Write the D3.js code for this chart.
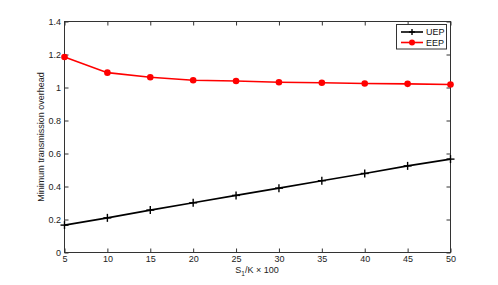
<!DOCTYPE html>
<html><head><meta charset="utf-8">
<script src="https://cdn.jsdelivr.net/npm/d3@7"></script>
<style>body{margin:0;background:#fff}svg{display:block}text{font-family:"Liberation Sans",Arial,sans-serif}</style>
</head><body>
<svg id="c" width="498" height="285"></svg>
<script>
const xValues = [5,10,15,20,25,30,35,40,45,50];
const uepValues = [0.166,0.210,0.257,0.301,0.346,0.390,0.435,0.479,0.525,0.566];
const eepValues = [1.185,1.090,1.062,1.044,1.039,1.032,1.029,1.024,1.022,1.018];
const xTicks = [5,10,15,20,25,30,35,40,45,50];
const yTicks = [0,0.2,0.4,0.6,0.8,1,1.2,1.4];
const seriesNames = ["UEP","EEP"];

const svg = d3.select("#c");
const L=64.5, R=450.5, T=21.5, B=252.5;
const x = d3.scaleLinear().domain([5,50]).range([L,R]);
const y = d3.scaleLinear().domain([0,1.4]).range([B,T]);
const axCol="#333", tk=4;

// box
svg.append("rect").attr("x",L).attr("y",T).attr("width",R-L).attr("height",B-T)
  .attr("fill","none").attr("stroke",axCol).attr("stroke-width",1);

const xb = svg.append("g").attr("transform",`translate(0,${B})`)
  .call(d3.axisBottom(x).tickValues(xTicks).tickSize(-tk).tickPadding(3.5).tickFormat(d3.format("d")));
const xt = svg.append("g").attr("transform",`translate(0,${T})`)
  .call(d3.axisTop(x).tickValues(xTicks).tickSize(-tk).tickFormat(""));
const yl = svg.append("g").attr("transform",`translate(${L},0)`)
  .call(d3.axisLeft(y).tickValues(yTicks).tickSize(-tk).tickPadding(3.5).tickFormat(d=>+d.toFixed(1)+""));
const yr = svg.append("g").attr("transform",`translate(${R},0)`)
  .call(d3.axisRight(y).tickValues(yTicks).tickSize(-tk).tickFormat(""));
[xb,xt,yl,yr].forEach(g=>{
  g.select(".domain").remove();
  g.selectAll("line").attr("stroke",axCol);
  g.selectAll("text").attr("fill","#222").style("font-size","9px").style("font-family","'Liberation Sans',Arial,sans-serif");
});

// lines
const line = d3.line().x((d,i)=>x(xValues[i])).y(d=>y(d));
svg.append("path").datum(uepValues).attr("d",line).attr("fill","none").attr("stroke","#000").attr("stroke-width",1.6);
svg.append("path").datum(eepValues).attr("d",line).attr("fill","none").attr("stroke","#f00").attr("stroke-width",1.6);

// markers
const plus = (g,cx,cy,s,col)=>{
  g.append("line").attr("x1",cx-s).attr("x2",cx+s).attr("y1",cy).attr("y2",cy).attr("stroke",col).attr("stroke-width",1.4);
  g.append("line").attr("x1",cx).attr("x2",cx).attr("y1",cy-s).attr("y2",cy+s).attr("stroke",col).attr("stroke-width",1.4);
};
const mk = svg.append("g");
uepValues.forEach((v,i)=>plus(mk,x(xValues[i]),y(v),4,"#000"));
svg.append("g").selectAll("circle").data(eepValues).join("circle")
  .attr("cx",(d,i)=>x(xValues[i])).attr("cy",d=>y(d)).attr("r",3.3).attr("fill","#f00");

// legend
const lg = svg.append("g");
lg.append("rect").attr("x",396.5).attr("y",24.5).attr("width",50).attr("height",24.5)
  .attr("fill","#fff").attr("stroke",axCol).attr("stroke-width",1);
const ly=[32,42.5], lc=["#000","#f00"];
seriesNames.forEach((n,i)=>{
  lg.append("line").attr("x1",401).attr("x2",423).attr("y1",ly[i]).attr("y2",ly[i]).attr("stroke",lc[i]).attr("stroke-width",1.6);
  if(i===0) plus(lg,412,ly[i],3,"#000");
  else lg.append("circle").attr("cx",412).attr("cy",ly[i]).attr("r",3).attr("fill","#f00");
  lg.append("text").attr("x",426).attr("y",ly[i]+3.3).text(n).style("font-size","9px").attr("fill","#111");
});

// axis labels
const xl = svg.append("text").attr("x",257).attr("y",273).attr("text-anchor","middle").style("font-size","9px").attr("fill","#222");
xl.append("tspan").text("S");
xl.append("tspan").attr("dy",2.5).style("font-size","6.5px").text("1");
xl.append("tspan").attr("dy",-2.5).text("/K × 100");
svg.append("text").attr("transform","translate(44,137) rotate(-90)").attr("text-anchor","middle")
  .style("font-size","9px").attr("fill","#222").text("Minimum transmission overhead");
</script>
</body></html>
